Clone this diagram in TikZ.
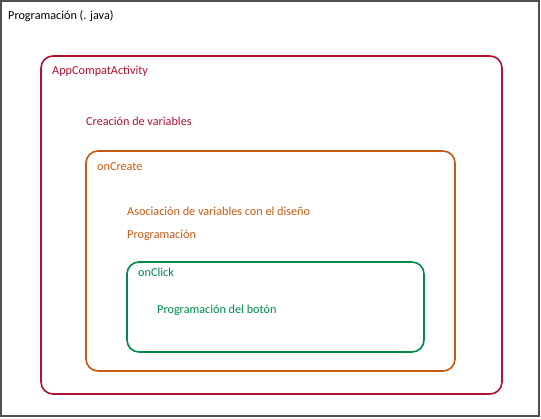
\documentclass[tikz,border=0pt]{standalone}
\usepackage{fontspec}
\setmainfont{Carlito}
\definecolor{cred}{RGB}{176,18,48}
\definecolor{corange}{RGB}{197,90,17}
\definecolor{cgreen}{RGB}{0,137,72}
\definecolor{cgrey}{RGB}{80,80,80}
\begin{document}
\begin{tikzpicture}[x=1pt,y=-1pt,
  lbl/.style={anchor=base west,inner sep=0pt,font=\fontsize{12.2}{14}\selectfont},
  boxr/.style={draw,line width=1.6pt,rounded corners=12pt}]
\useasboundingbox (0,0) rectangle (541,418);
\draw[cgrey,line width=1.2pt] (1,1) rectangle (539,416);
\node[lbl] (t0) at (8,19) {Programación (. java)};
\draw[boxr,cred] (41,56) rectangle (502,394);
\node[lbl,cred] (t1) at (52,74) {AppCompatActivity};
\node[lbl,cred] (t2) at (86,125) {Creación de variables};
\draw[boxr,corange] (86,151) rectangle (455,371);
\node[lbl,corange] (t3) at (97,170) {onCreate};
\node[lbl,corange] (t4) at (127,215) {Asociación de variables con el diseño};
\node[lbl,corange] (t5) at (127,238) {Programación};
\draw[boxr,cgreen] (127,262) rectangle (424,352);
\node[lbl,cgreen] (t6) at (138,276) {onClick};
\node[lbl,cgreen] (t7) at (157,313) {Programación del botón};
\end{tikzpicture}
\end{document}
